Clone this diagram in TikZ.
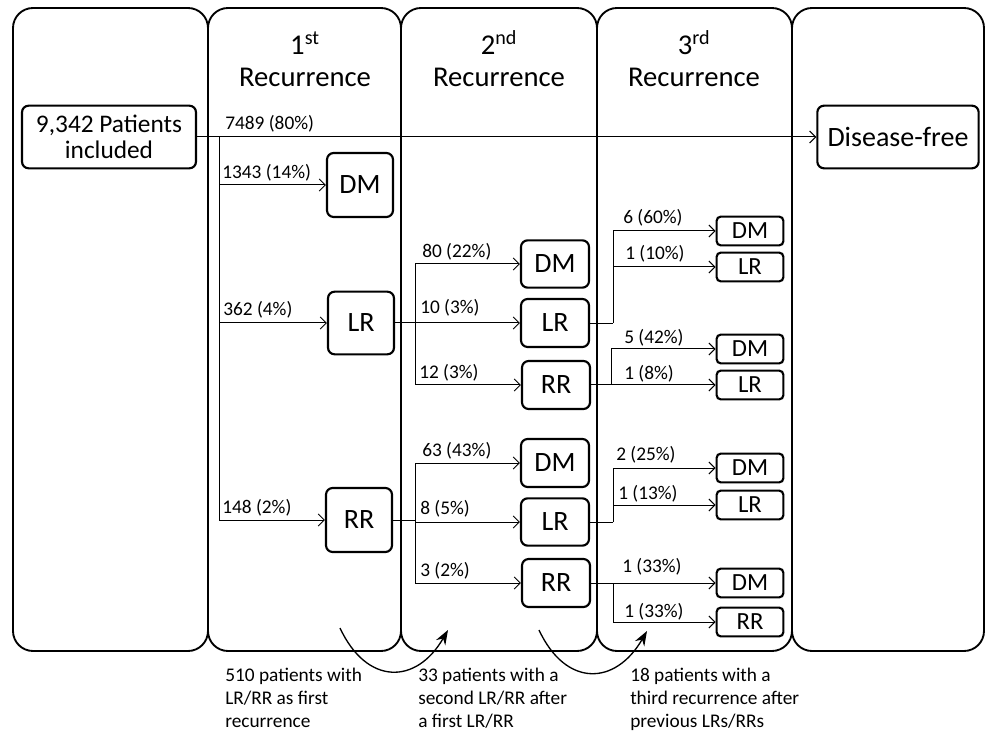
\documentclass[tikz,border=0pt]{standalone}
\usepackage{fontspec}
\setmainfont{Carlito}
\usepackage{tikz}
\usetikzlibrary{arrows.meta,positioning,calc}

\begin{document}
\begin{tikzpicture}[
        x=0.75pt, y=-0.75pt,
        font=\fontsize{14.5}{17.5}\selectfont,
        lane/.style={draw, line width=1.4pt, rounded corners=15pt},
        bigbox/.style={rectangle, rounded corners=5pt, draw, line width=1.6pt, inner sep=0pt, align=center, font=\fontsize{21}{21}\selectfont},
        smallbox/.style={rectangle, rounded corners=3pt, draw, line width=1.6pt, inner sep=0pt, minimum width=50pt, minimum height=21.5pt, font=\fontsize{18.5}{18.5}\selectfont},
        flow/.style={-{Straight Barb[length=4.5pt,width=9pt]}, line width=0.75pt},
        num/.style={anchor=west, inner sep=0pt},
        head/.style={align=center, font=\fontsize{21.5}{24}\selectfont},
        note/.style={anchor=north west, align=left, inner sep=0pt, font=\fontsize{14.5}{17.3}\selectfont},
        hop/.style={-{Stealth[length=11pt,width=8pt]}, line width=1pt}
    ]
        \useasboundingbox (0,0) rectangle (986,734);

        % lanes
        \draw[lane] (13,8) rectangle (208,651);
        \draw[lane] (208,8) rectangle (401,651);
        \draw[lane] (401,8) rectangle (597,651);
        \draw[lane] (597,8) rectangle (792,651);
        \draw[lane] (792,8) rectangle (984,651);

        \node[head] (h1) at (305,59) {1\textsuperscript{st}\\Recurrence};
        \node[head] (h2) at (499,59) {2\textsuperscript{nd}\\Recurrence};
        \node[head] (h3) at (694,59) {3\textsuperscript{rd}\\Recurrence};

        % first level
        \node[bigbox, minimum width=130.5pt, minimum height=47pt, font=\fontsize{19}{19}\selectfont] (pat) at (109,137) {9,342 Patients\\included};
        \node[bigbox, minimum width=121pt, minimum height=47pt] (free) at (898,137) {Disease-free};
        \node[bigbox, minimum width=49.5pt, minimum height=48pt] (dm1) at (360,185) {DM};
        \node[bigbox, minimum width=49.5pt, minimum height=47pt] (lr1) at (361,323) {LR};
        \node[bigbox, minimum width=49.5pt, minimum height=48pt] (rr1) at (359,520) {RR};

        % second level
        \node[bigbox, minimum width=51pt, minimum height=35.5pt] (dm2a) at (555,264) {DM};
        \node[bigbox, minimum width=51pt, minimum height=36pt] (lr2a) at (555,323) {LR};
        \node[bigbox, minimum width=51pt, minimum height=36pt] (rr2a) at (556,385) {RR};
        \node[bigbox, minimum width=51pt, minimum height=36pt] (dm2b) at (555,463) {DM};
        \node[bigbox, minimum width=51pt, minimum height=35.5pt] (lr2b) at (555,522) {LR};
        \node[bigbox, minimum width=51pt, minimum height=36pt] (rr2b) at (556,583) {RR};

        % third level
        \node[smallbox] (dm3a) at (750,231) {DM};
        \node[smallbox] (lr3a) at (750,267) {LR};
        \node[smallbox] (dm3b) at (750,349) {DM};
        \node[smallbox] (lr3b) at (750,385) {LR};
        \node[smallbox] (dm3c) at (750,468) {DM};
        \node[smallbox] (lr3c) at (750,505) {LR};
        \node[smallbox] (dm3d) at (750,583) {DM};
        \node[smallbox] (rr3d) at (750,622) {RR};

        % branch points
        \coordinate (t1) at (219,137);
        \coordinate (t2) at (415,323);
        \coordinate (t2b) at (415,520);
        \coordinate (t3a) at (613,323);
        \coordinate (t3b) at (611,385);
        \coordinate (t3c) at (613,522);
        \coordinate (t3d) at (613,583);

        \draw[flow] (pat) -- (free);
        \draw[flow] (t1) |- (dm1.west);
        \draw[flow] (t1) |- (lr1.west);
        \draw[flow] (t1) |- (rr1.west);

        \draw[flow] (lr1) -- (lr2a);
        \draw[flow] (t2) |- (dm2a.west);
        \draw[flow] (t2) |- (rr2a.west);
        \draw[flow] (rr1.east) -- (t2b) |- (lr2b.west);
        \draw[flow] (t2b) |- (dm2b.west);
        \draw[flow] (t2b) |- (rr2b.west);

        \draw (lr2a.east) -- (t3a);
        \draw[flow] (t3a) |- (dm3a.west);
        \draw[flow] (t3a) |- (lr3a.west);
        \draw[flow] (rr2a.east) -- (lr3b.west);
        \draw[flow] (t3b) |- (dm3b.west);
        \draw (lr2b.east) -- (t3c);
        \draw[flow] (t3c) |- (dm3c.west);
        \draw[flow] (t3c) |- (lr3c.west);
        \draw[flow] (rr2b.east) -- (dm3d.west);
        \draw[flow] (t3d) |- (rr3d.west);

        % counts
        \node[num] (n1) at (225,124) {7489 (80\%)};
        \node[num] (n2) at (222,173) {1343 (14\%)};
        \node[num] (n3) at (223,310) {362 (4\%)};
        \node[num] (n4) at (222,508) {148 (2\%)};
        \node[num] (n5) at (422,252) {80 (22\%)};
        \node[num] (n6) at (420,308) {10 (3\%)};
        \node[num] (n7) at (419,373) {12 (3\%)};
        \node[num] (n8) at (422,451) {63 (43\%)};
        \node[num] (n9) at (420,509) {8 (5\%)};
        \node[num] (n10) at (420,571) {3 (2\%)};
        \node[num] (n11) at (623,218) {6 (60\%)};
        \node[num] (n12) at (625,254) {1 (10\%)};
        \node[num] (n13) at (624,338) {5 (42\%)};
        \node[num] (n14) at (624,374) {1 (8\%)};
        \node[num] (n15) at (616,455) {2 (25\%)};
        \node[num] (n16) at (618,494) {1 (13\%)};
        \node[num] (n17) at (622,567) {1 (33\%)};
        \node[num] (n18) at (624,612) {1 (33\%)};

        % notes below
        \node[note] (b1) at (225,668) {510 patients with\\LR/RR as first\\recurrence};
        \node[note] (b2) at (418,668) {33 patients with a\\second LR/RR after\\a first LR/RR};
        \node[note] (b3) at (630,668) {18 patients with a\\third recurrence after\\previous LRs/RRs};

        \coordinate (c1s) at (340,628);
        \coordinate (c1e) at (448,630);
        \coordinate (c2s) at (539,630);
        \coordinate (c2e) at (647,631);
        \draw[hop] (c1s) to[out=-65, in=-120, looseness=1.5] (c1e);
        \draw[hop] (c2s) to[out=-65, in=-120, looseness=1.5] (c2e);
    \end{tikzpicture}
\end{document}
